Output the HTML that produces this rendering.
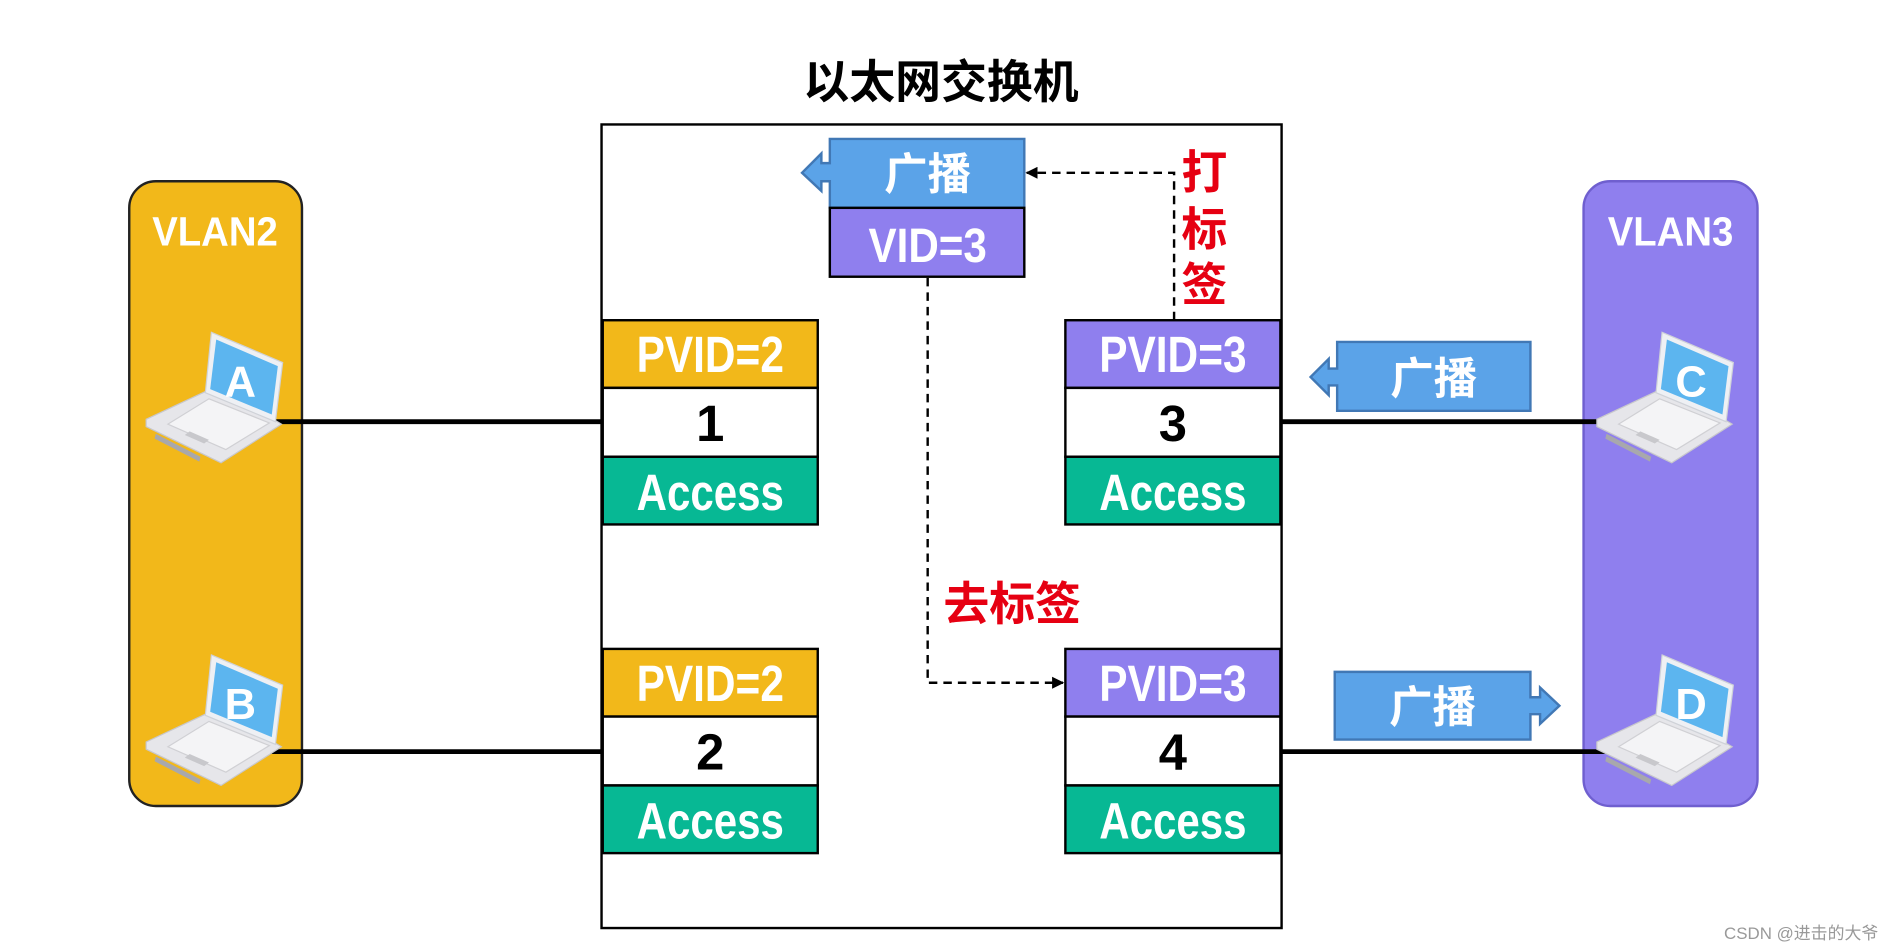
<!DOCTYPE html>
<html><head><meta charset="utf-8"><style>
html,body{margin:0;padding:0;background:#fff;width:1894px;height:951px;overflow:hidden}
svg{display:block}
.n{font-family:"Liberation Sans Narrow","Liberation Sans",sans-serif;font-weight:bold}
.c{font-family:"Liberation Sans","Noto Sans CJK SC",sans-serif;font-weight:bold}
</style></head><body>
<svg width="1894" height="951" viewBox="0 0 1568 787" preserveAspectRatio="none" xmlns="http://www.w3.org/2000/svg">
<defs>
<g id="lap">
<polygon points="49,49 107,73 112,76 62,108 0,78 0,72" fill="#e6e6ea" stroke="#c8c8cc" stroke-width="1"/>
<polygon points="52,55 102,75 66,97 18,76" fill="#f4f4f6" stroke="#d0d0d4"/>
<polygon points="36,82 52,89 48,92 32,85" fill="#c8c8cc"/>
<polygon points="8,84 45,103 44,107 7,88" fill="#a8a8ac"/>
<polygon points="54,0 113,25 107,74 49,50" fill="#eef0f4" stroke="#cfd2d8"/>
<polygon points="58,6 109,28 104,68 53,47" fill="#5cb5ef"/>
</g>
<marker id="ah" markerWidth="10" markerHeight="10" refX="9" refY="5" orient="auto" markerUnits="userSpaceOnUse"><path d="M0,0 L10,5 L0,10 z" fill="#000"/></marker>
</defs>

<text x="779" y="81" text-anchor="middle" class="c" font-size="38" fill="#000">以太网交换机</text>

<rect x="498" y="103" width="563" height="665" fill="#fff" stroke="#000" stroke-width="2"/>

<rect x="107" y="150" width="143" height="517" rx="22" fill="#F2B81A" stroke="#222" stroke-width="2"/>
<text x="178" y="203" text-anchor="middle" class="n" font-size="34" fill="#fff" textLength="104" lengthAdjust="spacingAndGlyphs">VLAN2</text>
<rect x="1311" y="150" width="144" height="517" rx="22" fill="#8F7FEE" stroke="#6f5fcf" stroke-width="2"/>
<text x="1383" y="203" text-anchor="middle" class="n" font-size="34" fill="#fff" textLength="104" lengthAdjust="spacingAndGlyphs">VLAN3</text>

<g stroke="#000" stroke-width="4">
<line x1="225" y1="349" x2="498" y2="349"/>
<line x1="225" y1="622" x2="498" y2="622"/>
<line x1="1061" y1="349" x2="1328" y2="349"/>
<line x1="1061" y1="622" x2="1332" y2="622"/>
</g>

<use href="#lap" x="121" y="275"/>
<text x="199" y="328" text-anchor="middle" class="n" font-size="36" fill="#fff">A</text>
<use href="#lap" x="121" y="542"/>
<text x="199" y="595" text-anchor="middle" class="n" font-size="36" fill="#fff">B</text>
<use href="#lap" x="1322" y="275"/>
<text x="1400" y="328" text-anchor="middle" class="n" font-size="36" fill="#fff">C</text>
<use href="#lap" x="1322" y="542"/>
<text x="1400" y="595" text-anchor="middle" class="n" font-size="36" fill="#fff">D</text>

<g stroke="#000" stroke-width="2">
<rect x="499" y="265" width="178" height="56" fill="#F2B81A"/>
<rect x="499" y="321" width="178" height="57" fill="#fff"/>
<rect x="499" y="378" width="178" height="56" fill="#07B894"/>
<rect x="499" y="537" width="178" height="56" fill="#F2B81A"/>
<rect x="499" y="593" width="178" height="57" fill="#fff"/>
<rect x="499" y="650" width="178" height="56" fill="#07B894"/>
<rect x="882" y="265" width="178" height="56" fill="#8F7FEE"/>
<rect x="882" y="321" width="178" height="57" fill="#fff"/>
<rect x="882" y="378" width="178" height="56" fill="#07B894"/>
<rect x="882" y="537" width="178" height="56" fill="#8F7FEE"/>
<rect x="882" y="593" width="178" height="57" fill="#fff"/>
<rect x="882" y="650" width="178" height="56" fill="#07B894"/>
</g>
<g class="n" text-anchor="middle" font-size="42">
<text x="588" y="308" fill="#fff" textLength="122" lengthAdjust="spacingAndGlyphs">PVID=2</text>
<text x="588" y="365" fill="#000">1</text>
<text x="588" y="422" fill="#fff" textLength="122" lengthAdjust="spacingAndGlyphs">Access</text>
<text x="588" y="580" fill="#fff" textLength="122" lengthAdjust="spacingAndGlyphs">PVID=2</text>
<text x="588" y="637" fill="#000">2</text>
<text x="588" y="694" fill="#fff" textLength="122" lengthAdjust="spacingAndGlyphs">Access</text>
<text x="971" y="308" fill="#fff" textLength="122" lengthAdjust="spacingAndGlyphs">PVID=3</text>
<text x="971" y="365" fill="#000">3</text>
<text x="971" y="422" fill="#fff" textLength="122" lengthAdjust="spacingAndGlyphs">Access</text>
<text x="971" y="580" fill="#fff" textLength="122" lengthAdjust="spacingAndGlyphs">PVID=3</text>
<text x="971" y="637" fill="#000">4</text>
<text x="971" y="694" fill="#fff" textLength="122" lengthAdjust="spacingAndGlyphs">Access</text>
</g>

<polygon points="687,115 848,115 848,172 687,172 687,150 680,150 680,158 664,143 680,127 680,135 687,135" fill="#5BA3E8" stroke="#4178b5" stroke-width="2"/>
<text x="768" y="157" text-anchor="middle" class="c" font-size="36" fill="#fff">广播</text>
<rect x="687" y="172" width="161" height="57" fill="#8F7FEE" stroke="#000" stroke-width="2"/>
<text x="768" y="217" text-anchor="middle" class="n" font-size="40" fill="#fff" textLength="98" lengthAdjust="spacingAndGlyphs">VID=3</text>

<g fill="none" stroke="#000" stroke-width="2" stroke-dasharray="7,5">
<polyline points="972,265 972,143 850,143" marker-end="url(#ah)"/>
<polyline points="768,230 768,565 880,565" marker-end="url(#ah)"/>
</g>
<g class="c" font-size="38" fill="#e60012" text-anchor="middle">
<text x="997" y="156">打</text>
<text x="997" y="203">标</text>
<text x="997" y="249">签</text>
<text x="838" y="513">去标签</text>
</g>

<polygon points="1107,283 1267,283 1267,340 1107,340 1107,319 1100,319 1100,327 1085,312 1100,297 1100,305 1107,305" fill="#5BA3E8" stroke="#4178b5" stroke-width="2"/>
<text x="1187" y="326" text-anchor="middle" class="c" font-size="36" fill="#fff">广播</text>
<polygon points="1105,556 1267,556 1267,577 1275,577 1275,569 1291,584 1275,599 1275,591 1267,591 1267,612 1105,612" fill="#5BA3E8" stroke="#4178b5" stroke-width="2"/>
<text x="1186" y="598" text-anchor="middle" class="c" font-size="36" fill="#fff">广播</text>

<text x="1555" y="777" text-anchor="end" font-family="Liberation Sans,Noto Sans CJK SC,sans-serif" font-size="14" fill="#999">CSDN @进击的大爷</text>
</svg>
</body></html>
